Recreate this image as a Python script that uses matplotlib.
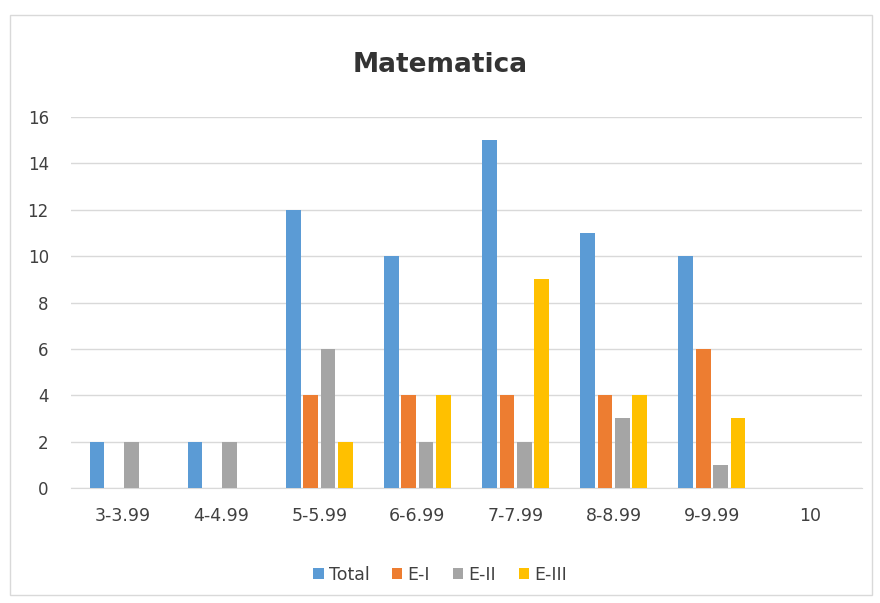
import numpy as np
import matplotlib
matplotlib.use("Agg")
import matplotlib.pyplot as plt
from matplotlib.patches import Rectangle

categories = ["3-3.99", "4-4.99", "5-5.99", "6-6.99", "7-7.99", "8-8.99", "9-9.99", "10"]
total = [2, 2, 12, 10, 15, 11, 10, 0]
e_i = [0, 0, 4, 4, 4, 4, 6, 0]
e_ii = [2, 2, 6, 2, 2, 3, 1, 0]
e_iii = [0, 0, 2, 4, 9, 4, 3, 0]

series = [("Total", total, "#5B9BD5"),
          ("E-I", e_i, "#ED7D31"),
          ("E-II", e_ii, "#A5A5A5"),
          ("E-III", e_iii, "#FFC000")]

plt.rcParams['font.family'] = ['DejaVu Sans']

fig = plt.figure(figsize=(8.8, 6.03), dpi=100)
fig.patches.append(Rectangle((10 / 880, 1 - 595 / 603), 862 / 880, 580 / 603,
                             transform=fig.transFigure, fill=False,
                             edgecolor="#D9D9D9", linewidth=1))

ax = fig.add_axes([71 / 880, 1 - 488 / 603, 791 / 880, 371 / 603])
x = np.arange(len(categories))
width = 0.15
step = 0.177
for i, (name, vals, color) in enumerate(series):
    ax.bar(x + (i - 1.5) * step, vals, width, color=color, label=name, zorder=3)

ax.set_xlim(-0.53, len(categories) - 0.47)
ax.set_ylim(0, 16)
ax.set_yticks(range(0, 17, 2))
ax.set_xticks(x)
ax.set_xticklabels(categories)
ax.grid(axis="y", color="#D9D9D9", linewidth=1, zorder=0)
for s in ["top", "right", "left"]:
    ax.spines[s].set_visible(False)
ax.spines["bottom"].set_color("#D9D9D9")
ax.tick_params(axis="both", length=0, colors="#404040")
ax.tick_params(axis="x", pad=14, labelsize=12.5)
ax.tick_params(axis="y", pad=16, labelsize=12)

fig.text(0.5, 1 - 65 / 603, "Matematica", ha="center", va="center",
         fontsize=19, fontweight="bold", color="#333333")

fig.legend(loc="center", bbox_to_anchor=(0.5, 1 - 575 / 603), ncol=4,
           frameon=False, fontsize=12.5, handlelength=0.6, handleheight=0.6,
           handletextpad=0.3, columnspacing=1.3, labelcolor="#404040")

fig.savefig("out.png", dpi=100)
